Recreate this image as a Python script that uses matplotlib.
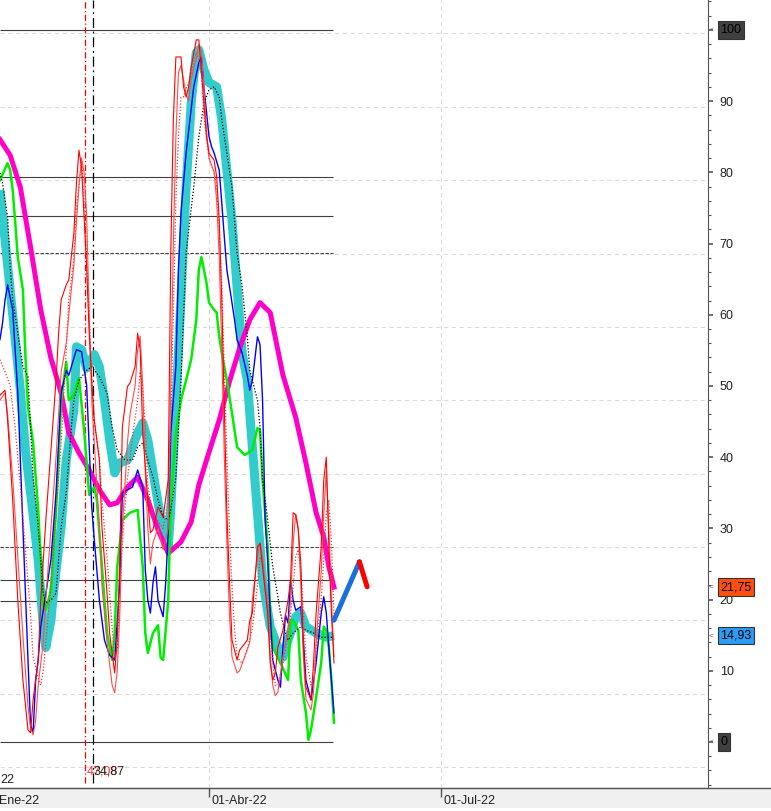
import matplotlib
matplotlib.use("Agg")
import matplotlib.pyplot as plt
import matplotlib.transforms as mtransforms
from matplotlib.ticker import MultipleLocator
from matplotlib.lines import Line2D
from matplotlib.patches import Rectangle

plt.rcParams['font.family'] = ['Liberation Sans', 'DejaVu Sans']

# x values are days counted from 01-Ene-22 (day 0)
cyan_days = [8, 10, 12, 14, 16, 18, 20, 23, 25, 26, 28, 29, 32, 34, 37, 38, 40, 42, 45, 47,
             49, 51, 53, 55, 58, 62, 64, 66, 69, 72, 74, 75, 77, 79, 81, 83, 85, 86, 88, 90,
             93, 95, 97, 99, 101, 103, 105, 107, 109, 111, 114, 117, 119, 121, 124, 126, 128, 132, 136, 139]
cyan_vals = [77.5, 70.5, 63.5, 56.5, 49.4, 41.0, 35.0, 25.6, 16.2, 13.3, 17.1, 20.9, 30.2, 39.6, 46.6, 55.5, 55.1, 52.5, 54.4, 52.7,
             48.0, 42.4, 37.8, 39.2, 39.6, 43.4, 44.8, 42.4, 35.8, 29.4, 27.4, 32.6, 47.6, 62.1, 77.9, 89.7, 96.8, 97.2, 94.4, 92.6,
             92.0, 87.4, 80.3, 73.3, 63.9, 54.6, 50.8, 41.4, 32.2, 22.8, 16.2, 13.3, 11.9, 14.3, 17.6, 18.1, 16.2, 15.3, 14.7, 14.93]

magenta_days = [8, 12, 16, 20, 24, 28, 32, 35, 39, 43, 47, 51, 54, 58, 62, 66, 70, 74, 79, 83,
                86, 90, 94, 98, 102, 106, 110, 114, 119, 124, 128, 132, 135, 137, 139]
magenta_vals = [84.6, 82.4, 77.9, 69.5, 60.7, 53.9, 49.0, 43.4, 40.6, 38.2, 35.4, 33.3, 33.6, 35.8, 37.2, 34.0, 29.8, 26.5, 28.1, 30.9,
                36.1, 40.7, 45.2, 50.6, 55.3, 59.3, 61.7, 60.3, 51.5, 45.6, 39.2, 32.2, 28.8, 24.6, 21.75]

green_days = [8, 11, 12, 13, 14, 15, 17, 18, 19, 21, 23, 24, 25, 26, 28, 30, 31, 32, 34, 35,
              37, 39, 41, 43, 45, 46, 48, 50, 52, 53, 54, 56, 59, 62, 64, 65, 66, 68, 70, 71,
              72, 74, 75, 77, 79, 81, 83, 85, 86, 87, 89, 90, 92, 93, 94, 95, 97, 99, 101, 104,
              107, 109, 110, 111, 113, 114, 115, 118, 121, 122, 123, 125, 126, 128, 129, 130, 132, 134, 135, 136,
              137, 138, 139]
green_vals = [78.9, 81.3, 80.3, 77.5, 72.9, 68.1, 63.5, 54.1, 47.1, 42.0, 32.6, 25.6, 19.0, 18.5, 21.3, 32.6, 39.6, 48.0, 53.4, 48.0,
              48.7, 51.1, 43.8, 34.7, 35.8, 34.0, 24.6, 15.3, 11.5, 15.3, 24.6, 31.2, 32.2, 32.6, 24.6, 15.3, 12.5, 15.3, 16.4, 11.9,
              11.5, 19.9, 34.0, 43.4, 48.0, 50.8, 53.7, 59.3, 66.3, 68.1, 64.5, 61.7, 60.7, 60.3, 56.9, 54.6, 50.8, 46.2, 41.4, 40.3,
              41.0, 44.1, 43.8, 36.8, 27.4, 18.1, 13.3, 11.1, 8.7, 17.1, 17.1, 15.7, 8.7, 4.1, 0.3, 1.7, 6.3, 11.1, 16.2, 15.7,
              13.3, 8.7, 2.7]

blue_days = [8, 9, 10, 11, 13, 15, 16, 17, 18, 19, 20, 21, 22, 23, 24, 25, 28, 30, 32, 34,
             35, 38, 40, 42, 44, 45, 47, 49, 51, 53, 55, 56, 58, 60, 62, 64, 65, 66, 67, 68,
             69, 70, 72, 73, 74, 75, 77, 78, 79, 81, 84, 86, 87, 88, 90, 91, 92, 94, 95, 96,
             97, 99, 100, 101, 103, 105, 106, 107, 109, 110, 111, 112, 113, 114, 115, 117, 118, 119, 120, 121,
             122, 123, 124, 126, 127, 128, 130, 132, 134, 135, 136, 137, 139]
blue_vals = [56.5, 58.8, 62.1, 64.2, 60.7, 49.0, 39.6, 30.2, 20.9, 11.5, 2.4, 1.3, 8.7, 11.5, 16.2, 18.5, 25.6, 35.0, 49.0, 52.2,
             51.5, 55.1, 54.8, 50.1, 33.0, 28.4, 19.9, 14.3, 12.2, 11.5, 22.3, 35.0, 35.4, 35.8, 38.2, 35.8, 24.2, 19.9, 18.1, 22.3,
             24.6, 19.9, 17.6, 22.3, 29.4, 43.4, 52.7, 66.3, 74.3, 82.7, 92.0, 95.4, 96.2, 92.0, 85.0, 83.6, 82.7, 80.3, 75.7, 70.9,
             66.3, 61.7, 59.3, 56.5, 54.6, 51.5, 49.4, 50.8, 56.9, 55.8, 48.0, 31.2, 25.6, 18.1, 11.5, 8.7, 7.7, 13.3, 17.8, 16.7,
             22.8, 19.9, 18.5, 19.0, 14.3, 8.7, 5.9, 11.1, 18.1, 20.4, 18.1, 13.3, 4.1]

red_days = [8, 10, 11, 13, 15, 17, 19, 20, 21, 23, 24, 26, 28, 30, 31, 32, 34, 35, 37, 38,
            39, 40, 41, 42, 43, 44, 45, 47, 48, 50, 51, 53, 54, 55, 56, 58, 59, 61, 62, 63,
            64, 66, 67, 68, 70, 72, 74, 75, 76, 77, 79, 80, 81, 82, 83, 85, 86, 88, 89, 90,
            92, 93, 94, 95, 96, 97, 98, 99, 101, 102, 105, 106, 107, 109, 110, 111, 113, 114, 115, 116,
            117, 119, 121, 122, 123, 124, 125, 126, 127, 128, 130, 131, 132, 134, 135, 136, 137, 138, 139]
red_vals = [48.7, 49.4, 45.2, 34.0, 19.9, 8.7, 1.7, 1.3, 5.9, 11.5, 19.9, 31.2, 41.0, 50.8, 57.4, 62.1, 64.2, 64.9, 71.5, 78.5,
            83.1, 80.8, 73.7, 66.7, 57.4, 50.8, 45.2, 39.6, 30.2, 20.9, 15.3, 9.7, 14.3, 25.6, 44.2, 49.9, 50.4, 52.7, 57.4, 55.1,
            43.4, 34.0, 29.4, 29.8, 33.0, 31.6, 36.8, 68.7, 87.4, 96.2, 96.2, 92.0, 90.6, 92.0, 94.8, 98.6, 98.6, 89.7, 85.0, 82.7,
            81.7, 79.4, 73.3, 62.1, 46.6, 32.2, 22.8, 14.3, 11.5, 12.9, 14.3, 17.1, 18.1, 27.4, 27.9, 24.6, 18.1, 11.1, 8.7, 9.7,
            13.3, 15.7, 19.9, 22.8, 32.2, 31.9, 29.8, 25.1, 13.3, 7.7, 5.9, 11.1, 18.1, 27.4, 36.8, 40.0, 27.4, 18.1, 11.1]

lightred_days = [8, 10, 11, 13, 15, 17, 19, 20, 21, 22, 23, 25, 26, 28, 30, 31, 32, 34, 35, 37,
                 38, 39, 40, 41, 42, 43, 44, 45, 47, 48, 50, 52, 53, 54, 55, 56, 58, 59, 61, 62,
                 63, 64, 65, 66, 67, 68, 70, 72, 74, 75, 76, 77, 78, 79, 80, 81, 82, 83, 85, 86,
                 87, 88, 89, 90, 92, 93, 94, 95, 96, 97, 98, 99, 101, 102, 104, 106, 107, 109, 110, 111,
                 113, 114, 115, 116, 117, 119, 121, 122, 123, 124, 125, 126, 127, 128, 130, 131, 132, 134, 135, 136,
                 137, 138, 139]
lightred_vals = [48.0, 49.0, 46.0, 37.0, 26.0, 15.0, 5.0, 2.1, 1.0, 3.0, 8.0, 14.0, 20.0, 30.0, 40.0, 46.0, 52.0, 56.0, 60.0, 67.0,
                 73.0, 78.0, 82.0, 80.0, 74.0, 60.0, 48.0, 42.0, 30.0, 22.0, 14.0, 8.0, 6.9, 10.0, 18.0, 30.0, 42.0, 46.0, 50.0, 55.0,
                 57.0, 50.0, 38.0, 30.0, 25.0, 28.0, 30.0, 27.0, 30.0, 50.0, 70.0, 85.0, 94.0, 95.0, 93.0, 91.0, 90.0, 93.0, 96.0, 98.0,
                 97.0, 92.0, 86.0, 82.0, 80.0, 76.0, 68.0, 55.0, 40.0, 28.0, 18.0, 12.0, 9.7, 10.0, 12.0, 14.0, 20.0, 26.0, 28.0, 26.0,
                 19.0, 12.0, 8.0, 6.5, 7.0, 12.0, 16.0, 20.0, 28.0, 32.0, 30.0, 22.0, 12.0, 6.0, 4.5, 7.0, 14.0, 24.0, 32.0, 38.0,
                 30.0, 20.0, 12.0]

reddot_days = [8, 10, 12, 14, 16, 18, 20, 21, 23, 24, 25, 26, 28, 30, 32, 34, 35, 37, 38, 40,
               41, 42, 43, 44, 45, 47, 48, 50, 52, 53, 54, 55, 56, 58, 60, 62, 63, 64, 65, 66,
               68, 70, 72, 74, 75, 76, 77, 78, 79, 80, 81, 82, 83, 84, 85, 86, 87, 88, 89, 90,
               92, 93, 94, 95, 96, 97, 98, 99, 100, 101, 103, 105, 107, 109, 110, 111, 113, 114, 115, 116,
               117, 119, 121, 122, 123, 124, 125, 126, 127, 128, 130, 131, 132, 134, 135, 136, 137, 138, 139]
reddot_vals = [53.7, 52.0, 50.0, 44.0, 36.0, 27.0, 18.0, 12.0, 9.0, 8.0, 10.0, 14.0, 22.0, 32.0, 42.0, 55.0, 62.0, 68.0, 75.0, 81.7,
               76.0, 68.0, 60.0, 50.8, 45.0, 40.0, 34.0, 26.0, 16.0, 12.0, 13.0, 20.0, 28.0, 37.0, 43.0, 48.0, 52.0, 50.0, 44.0, 36.0,
               32.0, 31.0, 30.0, 34.0, 45.0, 60.0, 76.0, 85.0, 90.5, 90.6, 91.8, 92.5, 93.6, 95.4, 96.8, 96.0, 94.0, 88.0, 85.0, 82.0,
               80.0, 78.0, 72.0, 64.0, 52.0, 40.0, 30.0, 22.0, 16.0, 12.0, 11.0, 13.0, 16.0, 22.0, 26.0, 25.0, 20.0, 15.0, 11.0, 8.0,
               8.0, 11.0, 15.0, 18.0, 22.0, 26.0, 27.0, 24.0, 18.0, 12.0, 8.0, 9.0, 13.0, 20.0, 26.0, 32.0, 34.0, 28.0, 18.0]

blackdot_days = [8, 9, 11, 12, 13, 15, 17, 19, 20, 21, 23, 24, 25, 26, 28, 30, 31, 32, 34, 35,
                 36, 37, 39, 42, 44, 47, 50, 52, 54, 57, 60, 62, 64, 66, 68, 70, 72, 74, 75, 77,
                 79, 81, 84, 86, 88, 90, 92, 94, 95, 97, 99, 100, 101, 103, 105, 106, 109, 110, 111, 113,
                 115, 117, 118, 120, 121, 123, 126, 128, 131, 134, 136, 139]
blackdot_vals = [79.9, 78.5, 73.7, 66.7, 62.1, 57.4, 52.7, 51.3, 44.2, 37.2, 30.2, 25.6, 20.9, 19.5, 19.9, 20.9, 25.6, 30.2, 35.0, 39.6,
                 44.2, 48.0, 50.8, 52.2, 52.7, 51.3, 49.0, 44.2, 41.0, 39.6, 39.6, 41.4, 42.0, 39.6, 37.2, 34.0, 31.6, 31.2, 32.6, 37.2,
                 50.8, 68.7, 77.9, 85.0, 89.7, 91.6, 92.0, 90.6, 87.4, 82.7, 77.9, 73.3, 68.7, 63.9, 56.9, 52.2, 48.0, 44.2, 36.8, 31.2,
                 24.6, 20.4, 18.1, 15.3, 14.3, 15.3, 16.2, 15.7, 15.3, 14.7, 14.7, 14.7]

proj_up_days = [139, 149]
proj_up_vals = [17.1, 25.3]
proj_down_days = [149, 152]
proj_down_vals = [25.3, 21.8]

level_solid = [100, 79.3, 73.9, 22.7, 19.8, 0]
level_dashed = [68.7, 27.4]
level_end = 138.6
grid_levels = [99.5, 89.2, 78.9, 68.6, 58.3, 48.0, 37.7, 27.4, 17.1, 6.8, -3.5]
grid_days = [90, 181]

marker_days = [41.5, 44.4]
marker_labels = ['47,08', '34,87']

date_days = [0, 90, 181]
date_labels = ['01-Ene-22', '01-Abr-22', '01-Jul-22']

fig = plt.figure(figsize=(7.71, 8.11), dpi=100)
ax = fig.add_axes([0, 23 / 811, 708 / 771, 788 / 811])
ax.set_xlim(8.02, 285.7)
ax.set_ylim(-6.46, 104.2)

# bottom date bar
fig.patches.append(Rectangle((0, 3 / 811), 1, 20 / 811, transform=fig.transFigure,
                             facecolor='#f0f0f0', edgecolor='none', zorder=-5))
fig.lines.append(Line2D([0, 1], [23 / 811, 23 / 811], transform=fig.transFigure,
                        color='#555555', lw=1.0))

# grid
for g in grid_levels:
    ax.axhline(g, color='#dcdcdc', lw=0.8, dashes=(4, 3), zorder=0)
for d in grid_days:
    ax.axvline(d, color='#dcdcdc', lw=0.8, dashes=(4, 3), zorder=0)

# level lines
ax.hlines(level_solid, 8.02, level_end, colors='#404040', lw=0.8, zorder=1)
ax.hlines(level_dashed, 8.02, level_end, colors='#404040', lw=0.8, linestyles=(0, (3, 1.5)), zorder=1)

# vertical markers
ax.vlines(marker_days[0], -5.8, 104.2, colors='#ff0000', lw=0.9, linestyles=(0, (5, 2, 1, 2)), zorder=2)
ax.vlines(marker_days[1], -5.8, 104.2, colors='#000000', lw=0.9, linestyles=(0, (8, 3, 1.5, 3)), zorder=2)
ax.text(marker_days[0] + 0.4, -4.2, marker_labels[0], color='#ff3030', fontsize=9, va='center', ha='left', zorder=3)
ax.text(marker_days[1] + 0.2, -4.2, marker_labels[1], color='#222222', fontsize=9, va='center', ha='left', zorder=3)
ax.text(8.02, -5.3, '22', color='#222222', fontsize=9, va='center', ha='left')

# series
ax.plot(cyan_days, cyan_vals, color='#33cccc', lw=6.5, solid_capstyle='butt', zorder=4)
ax.plot(magenta_days, magenta_vals, color='#ff00c8', lw=3.6, zorder=5)
ax.plot(green_days, green_vals, color='#00ee00', lw=1.8, zorder=6)
ax.plot(blue_days, blue_vals, color='#0000ff', lw=1.0, zorder=7)
ax.plot(blackdot_days, blackdot_vals, color='#000000', lw=0.9, linestyle=(0, (1, 1.5)), zorder=7)
ax.plot(reddot_days, reddot_vals, color='#ff3030', lw=0.9, linestyle=(0, (1, 1.5)), zorder=7)
ax.plot(lightred_days, lightred_vals, color='#ff4d4d', lw=0.8, zorder=8)
ax.plot(red_days, red_vals, color='#ff0000', lw=0.8, zorder=8)
ax.plot(proj_up_days, proj_up_vals, color='#1a6fd9', lw=3.6, solid_capstyle='round', zorder=9)
ax.plot(proj_down_days, proj_down_vals, color='#ff0000', lw=3.6, solid_capstyle='round', zorder=9)

# axes styling
for side in ['left', 'top']:
    ax.spines[side].set_visible(False)
ax.spines['right'].set_color('#555555')
ax.spines['bottom'].set_color('#555555')
ax.yaxis.tick_right()
ax.set_yticks(range(0, 101, 10))
ax.yaxis.set_minor_locator(MultipleLocator(2))
ax.tick_params(axis='y', which='major', length=3.5, width=1.2, color='#555555', pad=5,
               labelsize=9, labelcolor='#222222')
ax.tick_params(axis='y', which='minor', length=2.2, width=0.8, color='#555555')
ax.set_xticks([90, 181])
ax.set_xticklabels([])
ax.tick_params(axis='x', which='major', length=6.5, width=1.0, color='#555555')

# date labels in the bottom bar
date_trans = mtransforms.blended_transform_factory(ax.transData, ax.transAxes) + \
    mtransforms.ScaledTranslation(2 / 100, -7 / 100, fig.dpi_scale_trans)
for d, lbl in zip(date_days, date_labels):
    ax.text(d, 0, lbl, transform=date_trans, fontsize=9, color='#222222',
            ha='left', va='top', clip_on=False)

# value boxes on the right axis
box_trans = mtransforms.blended_transform_factory(ax.transAxes, ax.transData)
boxes = [(100, '100', '#404040'), (21.75, '21,75', '#ff4f0f'),
         (14.93, '14,93', '#2b9cf5'), (0, '0', '#404040')]
for val, txt, col in boxes:
    ax.text(1.0175, val, txt, transform=box_trans, fontsize=9, color='#000000',
            ha='left', va='center', clip_on=False, zorder=20,
            bbox=dict(boxstyle='square,pad=0.22', facecolor=col, edgecolor='#333333', lw=0.8))
    ax.text(1.001, val, '<', transform=box_trans, fontsize=6, color='#666666',
            ha='left', va='center', clip_on=False, zorder=20)

fig.savefig('out.png', dpi=100)
